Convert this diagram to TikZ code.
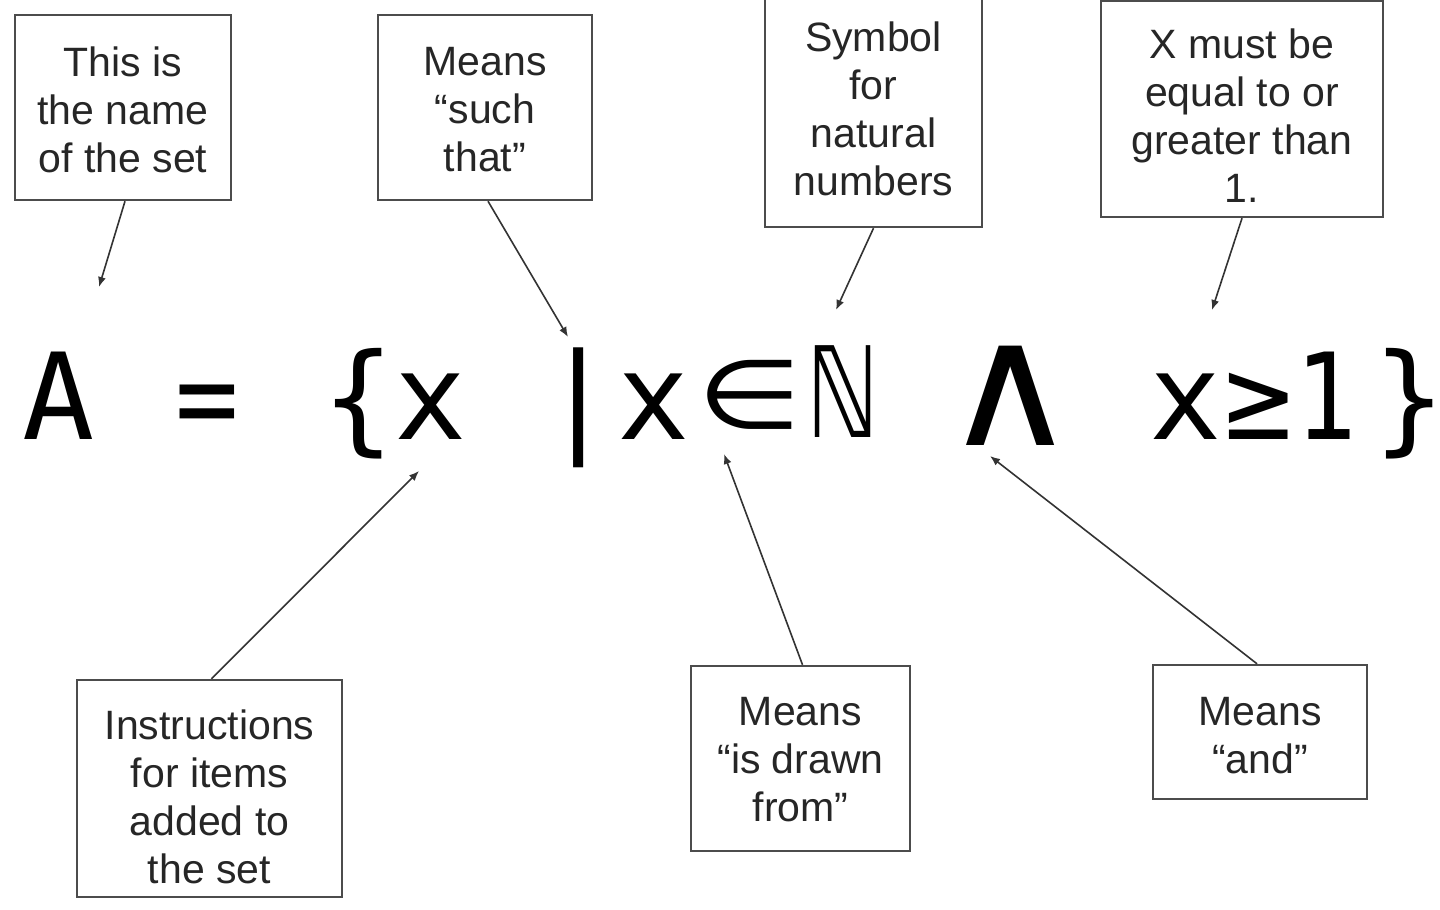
\documentclass[tikz,border=0pt]{standalone}
\usepackage{fontspec}
\setmainfont{Liberation Sans}
\newfontfamily\mathglyph{DejaVu Sans Mono}
\newfontfamily\symglyph{DejaVu Sans}
\usetikzlibrary{arrows.meta}
\begin{document}
\begin{tikzpicture}[x=0.5pt,y=-0.5pt,
  notebox/.style={draw=black!70, line width=1.2pt, inner sep=0pt},
  notetext/.style={align=center, font=\fontsize{20.5}{24}\selectfont, text=black!85, inner sep=0pt},
  glyph/.style={inner sep=0pt, anchor=base, font=\mathglyph\fontsize{60}{60}\selectfont},
  sym/.style={inner sep=0pt, anchor=base, font=\symglyph\fontsize{60}{60}\selectfont},
  pointer/.style={draw=black!80, line width=0.8pt, -{Latex[length=5pt,width=4pt]}}]
\fill[white] (0,0) rectangle (1440,910);
\useasboundingbox (0,0) rectangle (1440,910);

% annotation boxes
\node[notebox, minimum width=108pt, minimum height=92.5pt] (b1) at (123,107.5) {};
\node[notetext] (n1) at (123,109.5) {This is\\the name\\of the set};
\node[notebox, minimum width=107pt, minimum height=92.5pt] (b2) at (485,107.5) {};
\node[notetext] (n2) at (485,109.5) {Means\\“such\\that”};
\node[notebox, minimum width=108.5pt, minimum height=114.5pt] (b3) at (873.5,112.5) {};
\node[notetext] (n3) at (873.5,108.5) {Symbol\\for\\natural\\numbers};
\node[notebox, minimum width=141pt, minimum height=108pt] (b4) at (1242,109) {};
\node[notetext] (n4) at (1242,116) {X must be\\equal to or\\greater than\\1.};
\node[notebox, minimum width=132.5pt, minimum height=108.5pt] (b5) at (209.5,788.5) {};
\node[notetext] (n5) at (209.5,796.5) {Instructions\\for items\\added to\\the set};
\node[notebox, minimum width=109.5pt, minimum height=92.5pt] (b6) at (800.5,758.5) {};
\node[notetext] (n6) at (800.5,759.5) {Means\\“is drawn\\from”};
\node[notebox, minimum width=107pt, minimum height=67pt] (b7) at (1260,732) {};
\node[notetext] (n7) at (1260,736) {Means\\“and”};

% formula
\node[glyph] (gA) at (58.5,439) {A};
\node[glyph] (geq) at (207.5,439) {\scalebox{0.88}[1]{=}};
\node[glyph] (glb) at (359,439) {\{};
\node[glyph] (gx1) at (431,439) {x};
\node[glyph] (gbar) at (579,439) {|};
\node[glyph] (gx2) at (654,439) {x};
\node[sym] (gin) at (749.5,428) {\scalebox{1}[0.8]{∈}};
\node[sym] (gN) at (843.5,437) {\scalebox{0.76}[1.05]{ℕ}};
\node[sym] (gand) at (1011,445) {\scalebox{1.55}[1.43]{∧}};
\node[glyph] (gx3) at (1185.5,439) {x};
\node[sym] (gge) at (1258.5,439) {\scalebox{0.78}[0.95]{≥}};
\node[glyph] (g1) at (1326.5,439) {\scalebox{0.85}[1]{1}};
\node[glyph] (grb) at (1410,439) {\makebox[20pt]{\}}};

% arrow tips
\coordinate (t1) at (99,287);
\coordinate (t2) at (568,337);
\coordinate (t3) at (836,310);
\coordinate (t4) at (1212,310);
\coordinate (t5) at (419,471);
\coordinate (t6) at (724,454);
\coordinate (t7) at (990,456);

\draw[pointer] ([xshift=1pt]b1.south) -- (t1);
\draw[pointer] ([xshift=1.5pt]b2.south) -- (t2);
\draw[pointer] (b3.south) -- (t3);
\draw[pointer] (b4.south) -- (t4);
\draw[pointer] ([xshift=1pt]b5.north) -- (t5);
\draw[pointer] ([xshift=1pt]b6.north) -- (t6);
\draw[pointer] ([xshift=-1.5pt]b7.north) -- (t7);
\end{tikzpicture}
\end{document}
